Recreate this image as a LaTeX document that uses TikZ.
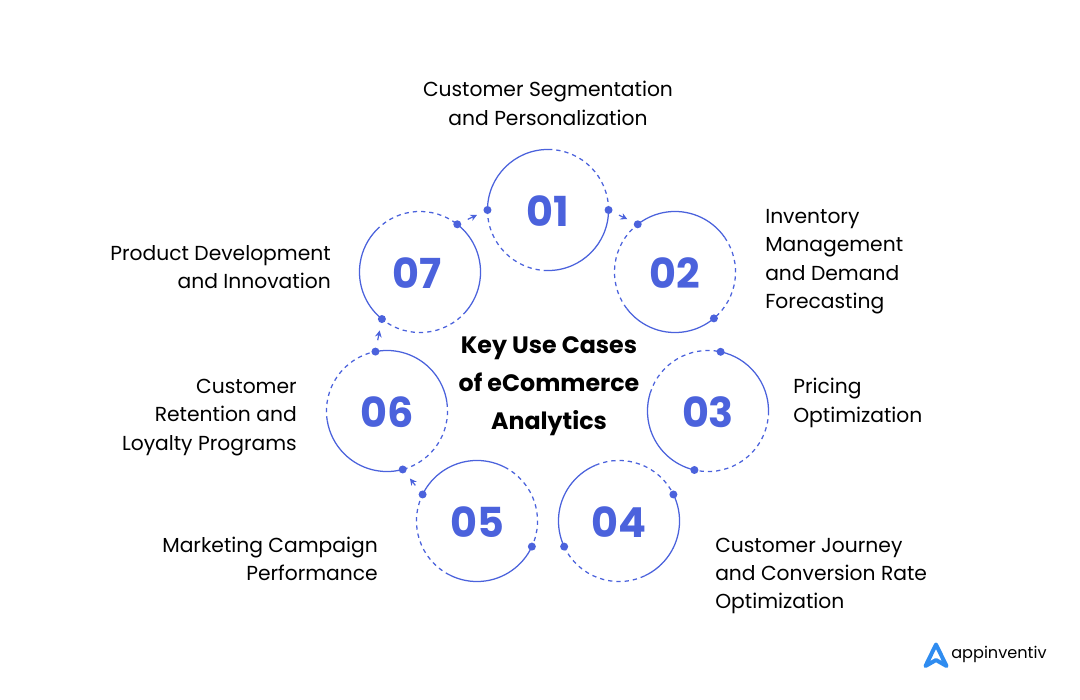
\documentclass[tikz,border=0pt]{standalone}
\usepackage{fontspec}
\setmainfont{Poppins}
\usetikzlibrary{arrows.meta}
\definecolor{ringblue}{HTML}{4B62DC}
\definecolor{logoblue}{HTML}{2F8CF0}
\def\rad{45.4pt}
\tikzset{
  solidarc/.style={ringblue,line width=.95pt},
  dasharc/.style={ringblue,line width=.95pt,dash pattern=on 3.2pt off 3pt},
  ringdot/.style={circle,fill=ringblue,inner sep=0pt,minimum size=6pt},
  ringnum/.style={ringblue,font=\fontsize{31}{31}\selectfont\bfseries},
  linkarrow/.style={ringblue,line width=.9pt,-{Stealth[length=5pt,width=5pt]},shorten >=5.5pt,shorten <=5.5pt},
  usecase/.style={font=\fontsize{15.2}{21.3}\selectfont,inner sep=0pt},
}
\begin{document}
\begin{tikzpicture}[x=.75pt,y=-.75pt]
\useasboundingbox (0,0) rectangle (1080,699);

\foreach \n/\cx/\cy/\dx/\a/\b/\c/\d in {01/548/210/0/180/90/0/-90,02/675/272/0/128/35/-50/-143,03/708/411/0/78/0/-103/-197,04/619/521/0/26/-65/-155/-247,05/477/521/0/154/63/-25/-117,06/387/411/0/101/8/-75/-171,07/420/272/-3/52/-40/-129/-224}
{
\coordinate (c\n) at (\cx,\cy);
\node[ringnum] (n\n) at (\cx+\dx,\cy+1) {\n};
\draw[solidarc] (c\n) ++(\a:\rad) arc[start angle=\a,end angle=\b,radius=\rad];
\draw[dasharc] (c\n) ++(\b:\rad) arc[start angle=\b,end angle=\c,radius=\rad];
\draw[solidarc] (c\n) ++(\c:\rad) arc[start angle=\c,end angle=\d,radius=\rad];
\draw[dasharc] (c\n) ++(\d:\rad) arc[start angle=\d,end angle=\a-360,radius=\rad];
\path (c\n) ++(\a:\rad) node[ringdot] (p\n) {};
\path (c\n) ++(\c:\rad) node[ringdot] (q\n) {};
}

\draw[linkarrow] (p07)--(p01);
\draw[linkarrow] (q01)--(p02);
\draw[linkarrow] (p06)--(q07);
\draw[linkarrow] (p05)--(q06);

\node[font=\fontsize{17.8}{28.5}\selectfont\bfseries,align=center,inner sep=0pt] (title) at (549,386) {Key Use Cases\\of eCommerce\\Analytics};

\node[usecase,align=center] (t01) at (548,103.5) {Customer Segmentation\\and Personalization};
\node[usecase,align=left,anchor=west] (t02) at (765,261.5) {Inventory\\Management\\and Demand\\Forecasting};
\node[usecase,align=left,anchor=west] (t03) at (793,403) {Pricing\\Optimization};
\node[usecase,align=left,anchor=west] (t04) at (715,576) {Customer Journey\\and Conversion Rate\\Optimization};
\node[usecase,align=right,anchor=east] (t05) at (378,559) {Marketing Campaign\\Performance};
\node[usecase,align=right,anchor=east] (t06) at (297,417.5) {Customer\\Retention and\\Loyalty Programs};
\node[usecase,align=right,anchor=east] (t07) at (331,267) {Product Development\\and Innovation};

% logo
\draw[logoblue,line width=3pt,line join=round,line cap=round] (925.5,666)--(936,644.5)--(946.5,666)--(936,660)--cycle;
\node[font=\fontsize{12.1}{12.1}\selectfont,inner sep=0pt,anchor=west] (logo) at (951,654) {appinventiv};
\end{tikzpicture}
\end{document}
